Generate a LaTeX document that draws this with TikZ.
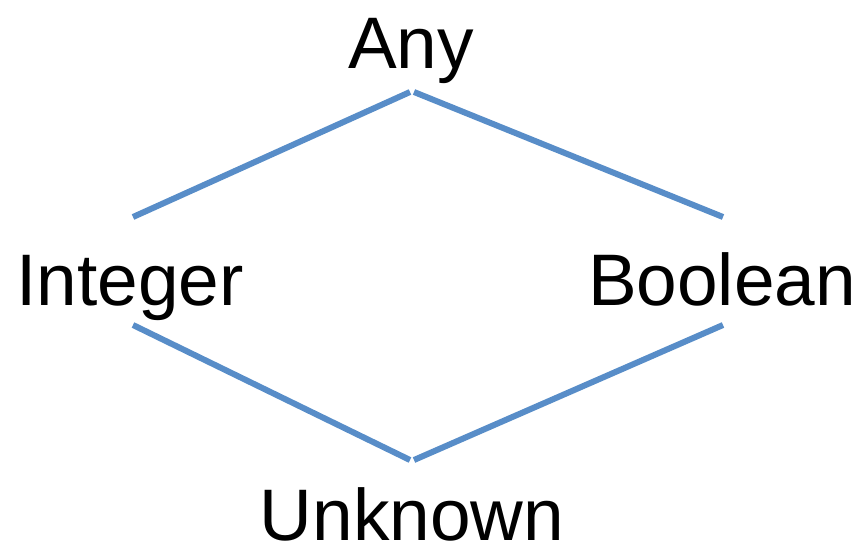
\documentclass[tikz,border=0pt]{standalone}
\usepackage{fontspec}
\setmainfont{Liberation Sans}
\definecolor{edgeblue}{RGB}{88,141,200}
\begin{document}
\begin{tikzpicture}[x=1pt,y=-1pt,
  lbl/.style={font=\fontsize{73}{80}\selectfont, inner sep=0pt, anchor=base, text=black},
  edge/.style={draw=edgeblue, line width=6pt}]
\useasboundingbox (0,0) rectangle (860,544);
\node[lbl] (any) at (411,68) {Any};
\node[lbl] (int) at (130,305) {Integer};
\node[lbl] (bool) at (722,305) {Boolean};
\node[lbl] (unk) at (412,540) {Unknown};
\coordinate (a1) at (133,217);
\coordinate (a2) at (410,92);
\coordinate (a3) at (414,92);
\coordinate (a4) at (723,217);
\coordinate (b1) at (133,325);
\coordinate (b2) at (410,460);
\coordinate (b3) at (414,460);
\coordinate (b4) at (723,325);
\draw[edge] (a1) -- (a2);
\draw[edge] (a3) -- (a4);
\draw[edge] (b1) -- (b2);
\draw[edge] (b3) -- (b4);
\end{tikzpicture}
\end{document}
